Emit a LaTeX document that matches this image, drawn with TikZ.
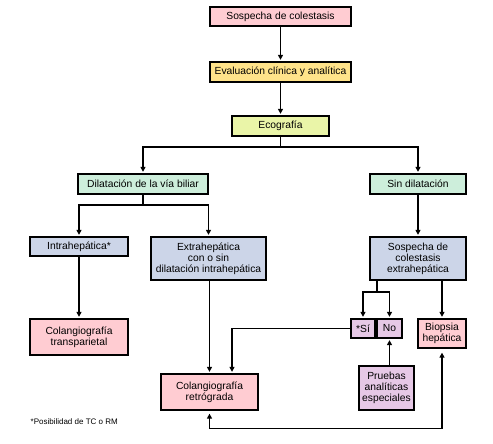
\documentclass[tikz,border=0pt]{standalone}
\usepackage{fontspec}
\setmainfont{Liberation Sans}
\usetikzlibrary{arrows.meta}

\definecolor{rosa}{HTML}{FFCCD2}
\definecolor{amarillo}{HTML}{FFE38A}
\definecolor{lima}{HTML}{EAF5A8}
\definecolor{verde}{HTML}{CDEEDB}
\definecolor{azul}{HTML}{CCD5E8}
\definecolor{lila}{HTML}{E6C8E6}

\begin{document}
\begin{tikzpicture}[x=1pt,y=-1pt,
    line width=1.3pt,
    >={Triangle[width=5pt,length=5pt]},
    caja/.style={draw,inner sep=0pt,align=center,
      font=\fontsize{10.3}{11}\selectfont},
    flecha/.style={->,shorten >=1.5pt}]
  \useasboundingbox (0,0) rectangle (493,444);
  % filas de cajas
  \node[caja,fill=rosa,minimum width=141,minimum height=19] (sosp) at (280.5,16.5) {Sospecha de colestasis};
  \node[caja,fill=amarillo,minimum width=141,minimum height=20] (eval) at (280.5,72) {Evaluación clínica y analítica};
  \node[caja,fill=lima,minimum width=97,minimum height=20] (eco) at (280.5,126) {Ecografía};
  \node[caja,fill=verde,minimum width=130,minimum height=20] (dil) at (143,184) {Dilatación de la vía biliar};
  \node[caja,fill=verde,minimum width=96,minimum height=20] (sindil) at (418,184) {Sin dilatación};
  \node[caja,fill=azul,minimum width=98,minimum height=19] (intra) at (79,246.5) {Intrahepática*};
  \node[caja,fill=azul,minimum width=115,minimum height=43] (extra) at (208.5,258.5) {Extrahepática\\con o sin\\dilatación intrahepática};
  \node[caja,fill=azul,minimum width=96,minimum height=43] (sospext) at (418,258.5) {Sospecha de\\colestasis\\extrahepática};
  \node[caja,fill=rosa,minimum width=98,minimum height=36] (transp) at (79,337) {Colangiografía\\transparietal};
  \node[caja,fill=rosa,minimum width=97,minimum height=36] (retro) at (209.5,392) {Colangiografía\\retrógrada};
  \node[caja,fill=lila,minimum width=24,minimum height=19] (si) at (363,328.5) {*Sí};
  \node[caja,fill=lila,minimum width=25,minimum height=19] (no) at (389.5,328.5) {No};
  \node[caja,fill=rosa,minimum width=48,minimum height=29] (biopsia) at (442,333.5) {Biopsia\\hepática};
  \node[caja,fill=lila,minimum width=55,minimum height=44] (pruebas) at (386.5,388) {Pruebas\\analíticas\\especiales};
  \node[anchor=west,inner sep=0pt,font=\fontsize{8}{9}\selectfont] (nota) at (30,422) {*Posibilidad de TC o RM};

  % conectores
  \coordinate (rama1) at (280.5,147);
  \coordinate (rama2) at (143,205);
  \coordinate (rama3) at (377,292);
  \draw[flecha] (sosp) -- (eval);
  \draw[flecha] (eval) -- (eco);
  \draw (eco) -- (rama1);
  \draw[flecha] (rama1) -| (dil);
  \draw[flecha] (rama1) -| (sindil);
  \draw (dil) -- (rama2);
  \draw[flecha] (rama2) -| (intra);
  \draw[flecha] (rama2) -| (extra);
  \draw[flecha] (sindil) -- (sospext);
  \draw[flecha] (intra) -- (transp);
  \draw[flecha] (extra.south -| retro) -- (retro.north);
  \draw (sospext.south -| rama3) -- (rama3);
  \draw[flecha] (rama3) -| (si);
  \draw[flecha] (rama3) -| (no);
  \draw[flecha] (sospext.south -| biopsia) -- (biopsia.north);
  \draw[flecha] (si.west) -| ([xshift=22.5pt]retro.north);
  \draw[flecha] (pruebas.north -| no) -- (no.south);
  \draw[<->,shorten >=4pt,shorten <=3pt] (retro.south) -- ++(0,18) -| (biopsia.south);
\end{tikzpicture}
\end{document}
